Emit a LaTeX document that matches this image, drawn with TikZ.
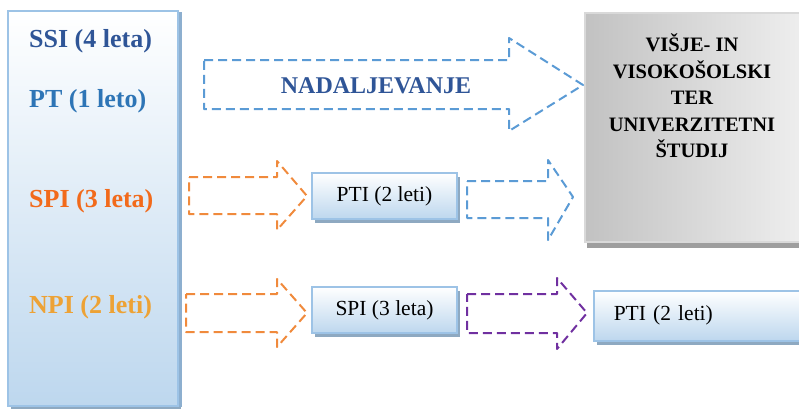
\documentclass[tikz,border=0pt]{standalone}
\usepackage{fontspec}
\setmainfont{Liberation Serif}
\usetikzlibrary{shadows}
\definecolor{temnomodra}{HTML}{2F5597}
\definecolor{modra}{HTML}{2E75B6}
\definecolor{oranzna}{HTML}{F26A1B}
\definecolor{rumena}{HTML}{EDA235}
\definecolor{crtamodra}{HTML}{5B9BD5}
\definecolor{crtaoranzna}{HTML}{F08A3C}
\definecolor{vijolicna}{HTML}{7030A0}
\definecolor{robmodra}{HTML}{9DC3E6}
\definecolor{polnilo}{HTML}{BDD7EE}
\definecolor{senca}{HTML}{8EA9C1}

\begin{document}
\begin{tikzpicture}[x=1pt, y=-1pt,
  okvir/.style={draw=robmodra, line width=1.5pt, top color=white, bottom color=polnilo,
    drop shadow={shadow xshift=3pt, shadow yshift=-4pt, fill=senca, opacity=1},
    inner sep=0pt, font=\fontsize{21.5}{24}\selectfont},
  oznaka/.style={anchor=west, inner sep=0pt, font=\bfseries\fontsize{26}{28}\selectfont},
  puscica/.style={dashed, line width=2pt, dash pattern=on 9pt off 5pt, line join=round}]
  \useasboundingbox (0,0) rectangle (799,408);

  \node[okvir, minimum width=170pt, minimum height=395pt,
    drop shadow={shadow xshift=4pt, shadow yshift=-1pt, fill=robmodra!90!black, opacity=1}]
    (stopnje) at (93, 208.5) {};
  \node[oznaka, text=temnomodra] (ssi) at (29, 41) {SSI (4 leta)};
  \node[oznaka, text=modra] (pt) at (29, 101) {PT (1 leto)};
  \node[oznaka, text=oranzna] (spi) at (29, 201) {SPI (3 leta)};
  \node[oznaka, text=rumena] (npi) at (29, 307) {NPI (2 leti)};

  \node[draw=black!15, line width=1.5pt, left color=black!24, right color=black!6,
    minimum width=225pt, minimum height=229pt,
    drop shadow={shadow xshift=2pt, shadow yshift=-6pt, fill=black!38, opacity=1}]
    (studij) at (697.5, 127.5) {};
  \node[align=center, font=\bfseries\fontsize{20.5}{26.5}\selectfont] (studijtekst) at (692, 96)
    {VIŠJE- IN\\VISOKOŠOLSKI\\TER\\UNIVERZITETNI\\ŠTUDIJ};

  \node[okvir, minimum width=145pt, minimum height=46pt] (pti1) at (384.5, 196) {PTI (2 leti)};
  \node[okvir, minimum width=145pt, minimum height=46pt] (spi2) at (384.5, 310) {SPI (3 leta)};
  \node[okvir, anchor=north west, minimum height=50pt, text width=177pt, inner xsep=20pt]
    (pti2) at (593, 290) {PTI (2 leti)};

  \draw[puscica, crtamodra] (204,60) -- (509,60) -- (509,38) -- (583,85) -- (509,131)
    -- (509,109) -- (204,109) -- cycle;
  \node[text=temnomodra, font=\bfseries\fontsize{24}{28}\selectfont] (nadaljevanje) at (376, 86) {NADALJEVANJE};

  \draw[puscica, crtaoranzna] (189,177) -- (277,177) -- (277,161) -- (307,196) -- (277,230)
    -- (277,214) -- (189,214) -- cycle;
  \draw[puscica, crtaoranzna] (186,294) -- (277,294) -- (277,279) -- (307,313) -- (277,347)
    -- (277,332) -- (186,332) -- cycle;
  \draw[puscica, crtamodra] (467,181) -- (548,181) -- (548,160) -- (573,197) -- (548,240)
    -- (548,218) -- (467,218) -- cycle;
  \draw[puscica, vijolicna] (467,294) -- (557,294) -- (557,278) -- (587,313) -- (557,349)
    -- (557,333) -- (467,333) -- cycle;
\end{tikzpicture}
\end{document}
